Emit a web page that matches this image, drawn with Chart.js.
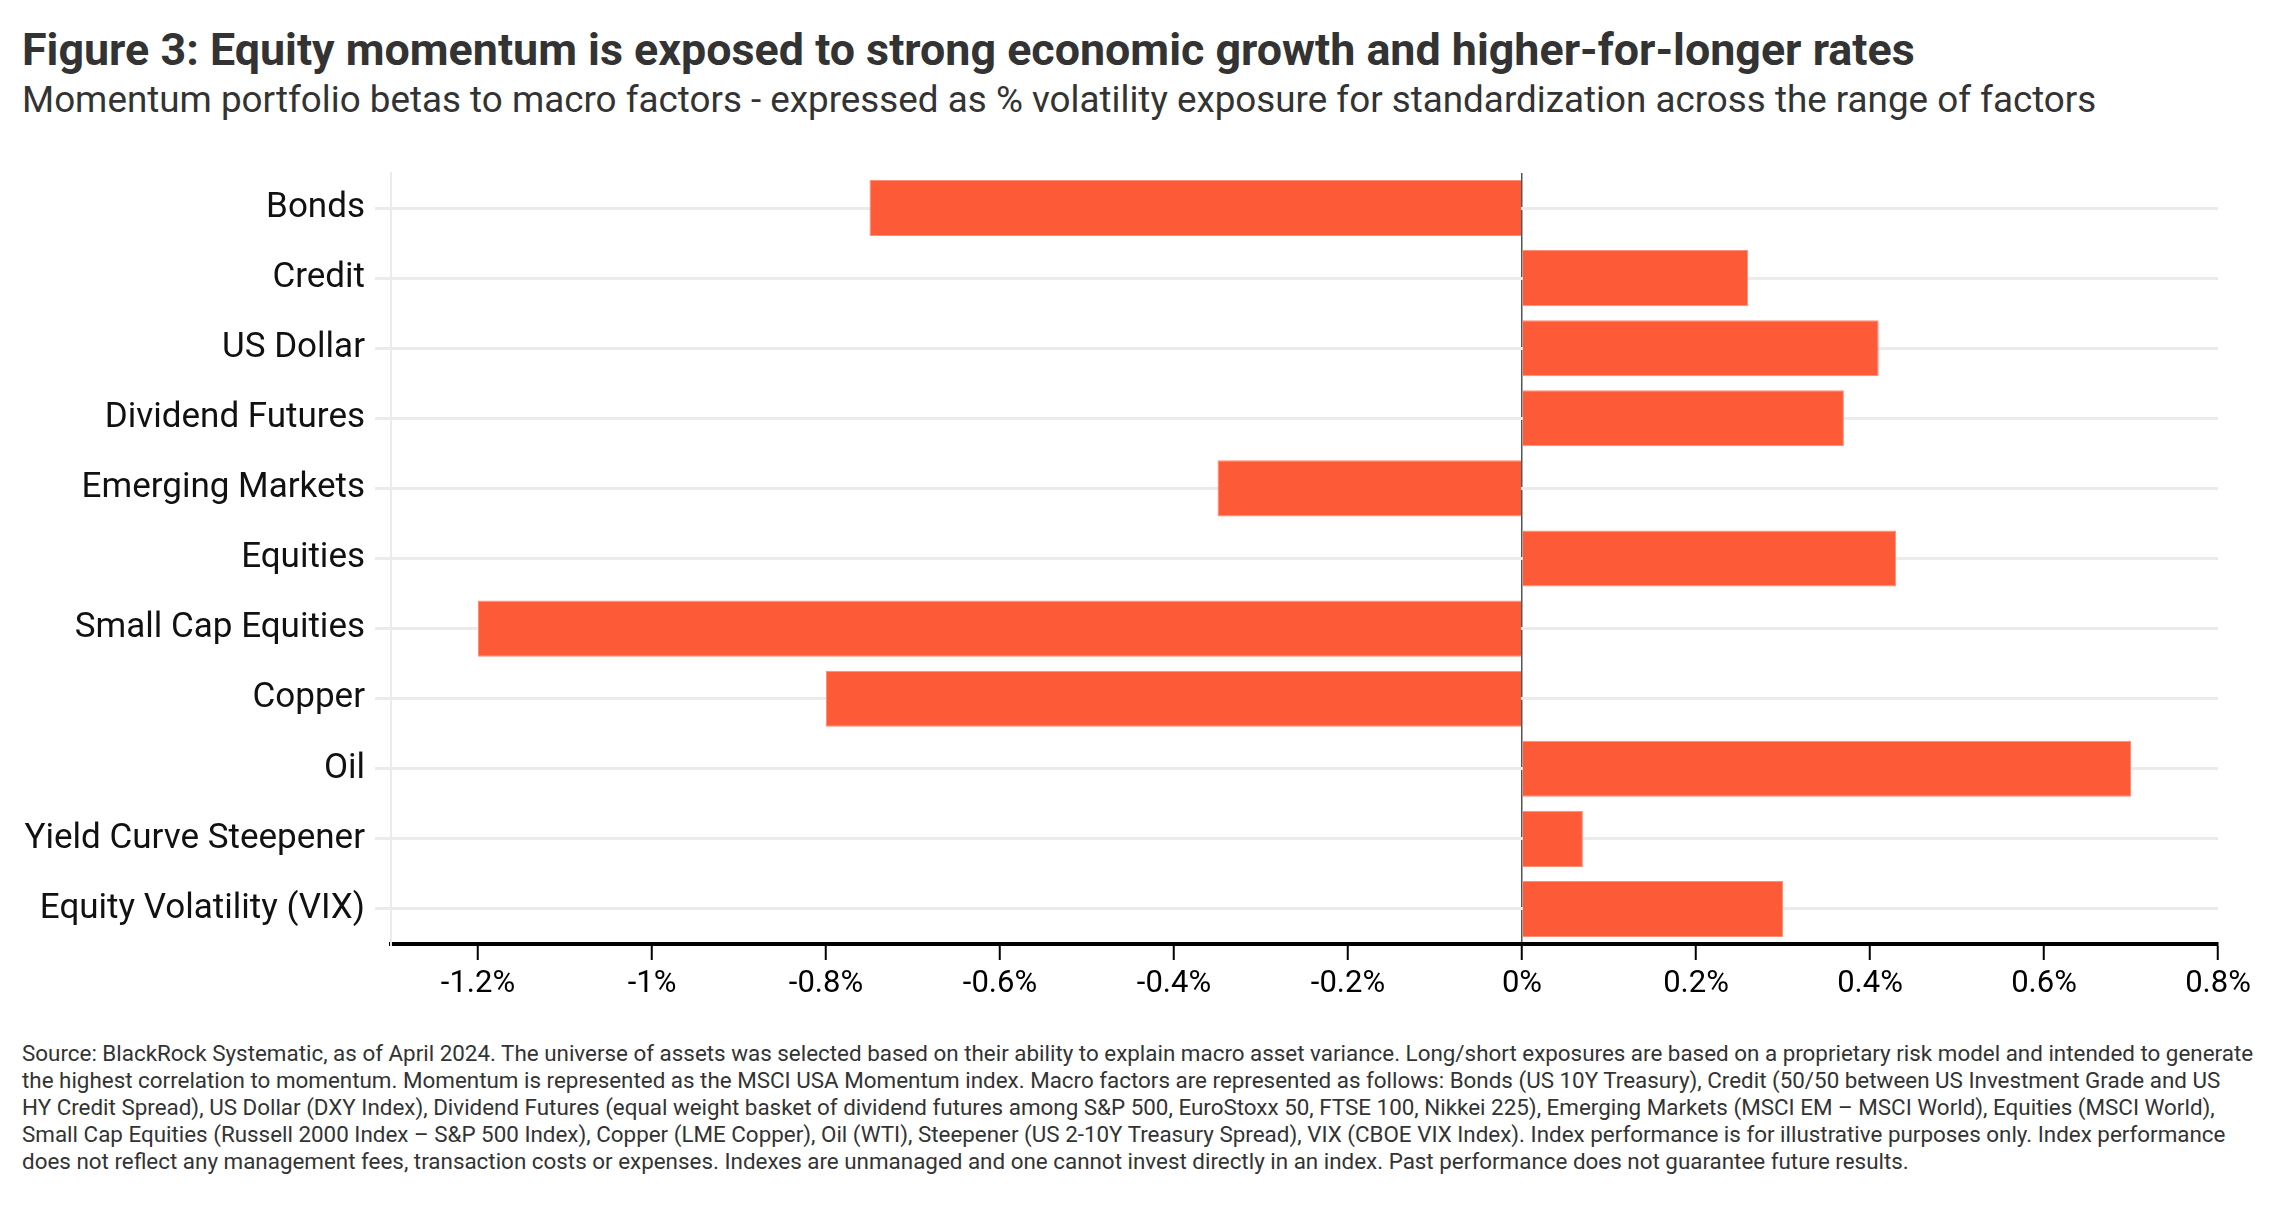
<!DOCTYPE html>
<html lang="en">
<head>
    <meta charset="UTF-8">
    <title>Figure 3: Equity momentum</title>
    <script src="https://cdn.jsdelivr.net/npm/chart.js@4/dist/chart.umd.min.js"></script>
    <style>
        html, body { margin: 0; padding: 0; background: #fff; }
        body { width: 2286px; height: 1230px; position: relative; overflow: hidden; font-family: Roboto, "Noto Sans", sans-serif; }
        .title { position: absolute; left: 22px; top: 23px; font-size: 44.8px; font-weight: 700; color: #333; white-space: nowrap; }
        .subtitle { position: absolute; left: 22px; top: 78px; font-size: 36.8px; color: #333; white-space: nowrap; }
        .chart-box { position: absolute; left: 0; top: 160px; width: 2286px; height: 860px; }
        .note { position: absolute; left: 22px; top: 1040px; font-size: 22.4px; line-height: 27px; color: #333; white-space: nowrap; }
    </style>
</head>
<body>
    <div class="title">Figure 3: Equity momentum is exposed to strong economic growth and higher-for-longer rates</div>
    <div class="subtitle">Momentum portfolio betas to macro factors - expressed as % volatility exposure for standardization across the range of factors</div>
    <div class="chart-box"><canvas id="betaChart"></canvas></div>
    <div class="note">
        Source: BlackRock Systematic, as of April 2024. The universe of assets was selected based on their ability to explain macro asset variance. Long/short exposures are based on a proprietary risk model and intended to generate<br>
        the highest correlation to momentum. Momentum is represented as the MSCI USA Momentum index. Macro factors are represented as follows: Bonds (US 10Y Treasury), Credit (50/50 between US Investment Grade and US<br>
        HY Credit Spread), US Dollar (DXY Index), Dividend Futures (equal weight basket of dividend futures among S&amp;P 500, EuroStoxx 50, FTSE 100, Nikkei 225), Emerging Markets (MSCI EM – MSCI World), Equities (MSCI World),<br>
        Small Cap Equities (Russell 2000 Index – S&amp;P 500 Index), Copper (LME Copper), Oil (WTI), Steepener (US 2-10Y Treasury Spread), VIX (CBOE VIX Index). Index performance is for illustrative purposes only. Index performance<br>
        does not reflect any management fees, transaction costs or expenses. Indexes are unmanaged and one cannot invest directly in an index. Past performance does not guarantee future results.
    </div>

    <script>
        // Macro factors and momentum betas (% volatility exposure)
        const factors = ['Bonds', 'Credit', 'US Dollar', 'Dividend Futures', 'Emerging Markets', 'Equities',
            'Small Cap Equities', 'Copper', 'Oil', 'Yield Curve Steepener', 'Equity Volatility (VIX)'];
        const betas = [-0.75, 0.26, 0.41, 0.37, -0.35, 0.43, -1.2, -0.8, 0.7, 0.07, 0.3];

        // x axis ticks
        const xTicks = [-1.2, -1, -0.8, -0.6, -0.4, -0.2, 0, 0.2, 0.4, 0.6, 0.8];
        const xTickLabels = ['-1.2%', '-1%', '-0.8%', '-0.6%', '-0.4%', '-0.2%', '0%', '0.2%', '0.4%', '0.6%', '0.8%'];

        const ctx = document.getElementById('betaChart').getContext('2d');

        new Chart(ctx, {
            type: 'bar',
            data: {
                labels: factors,
                datasets: [{
                    data: betas,
                    backgroundColor: '#fd5b37',
                    borderColor: '#fe8f76',
                    borderWidth: 1,
                    borderSkipped: 'start',
                    barPercentage: 0.8,
                    categoryPercentage: 1
                }]
            },
            options: {
                indexAxis: 'y',
                responsive: true,
                maintainAspectRatio: false,
                animation: false,
                devicePixelRatio: 1,
                layout: { padding: { top: 13, right: 68, bottom: 6, left: 0 } },
                plugins: {
                    legend: { display: false },
                    tooltip: { enabled: false }
                },
                scales: {
                    x: {
                        type: 'linear',
                        min: -1.3,
                        max: 0.8,
                        afterBuildTicks: (scale) => {
                            scale.ticks = xTicks.map(v => ({ value: v }));
                        },
                        afterFit: (scale) => {
                            scale.height = 70;
                            scale.paddingLeft = 0;
                            scale.paddingRight = 0;
                        },
                        ticks: {
                            autoSkip: false,
                            maxRotation: 0,
                            padding: 6,
                            color: '#000',
                            font: { family: 'Roboto', size: 31 },
                            callback: (value, i) => xTickLabels[i]
                        },
                        grid: {
                            drawOnChartArea: true,
                            drawTicks: true,
                            tickLength: 16,
                            tickWidth: 2,
                            tickColor: '#000',
                            lineWidth: 1.5,
                            color: (c) => (c.tick && c.tick.value === 0) ? '#555' : 'rgba(0,0,0,0)'
                        },
                        border: { display: true, color: '#000', width: 4 }
                    },
                    y: {
                        afterFit: (scale) => {
                            scale.width = 391;
                            scale.paddingTop = 0;
                            scale.paddingBottom = 0;
                        },
                        ticks: {
                            padding: 10,
                            color: '#111',
                            font: { family: 'Roboto', size: 35 }
                        },
                        grid: {
                            offset: false,
                            color: '#ebebeb',
                            lineWidth: 3,
                            tickLength: 16
                        },
                        border: { display: true, color: '#ebebeb', width: 2 }
                    }
                }
            }
        });
    </script>
</body>
</html>
